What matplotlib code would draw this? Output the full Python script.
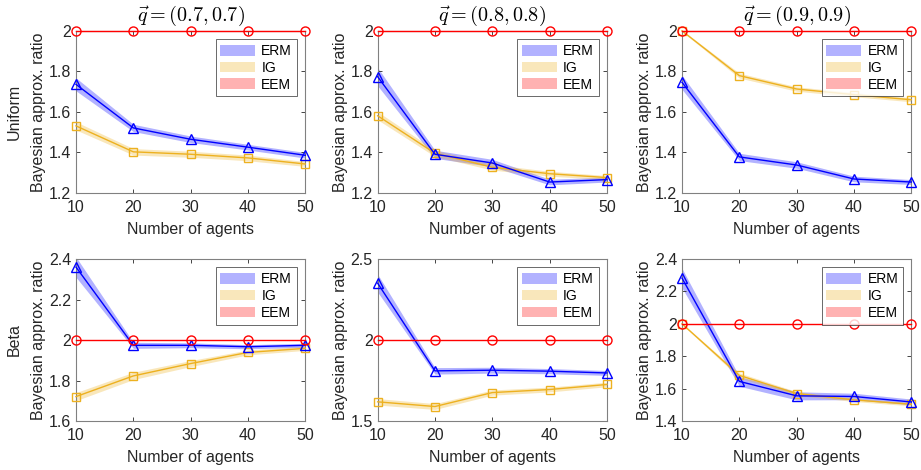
import matplotlib
matplotlib.use("Agg")
import matplotlib.pyplot as plt
from matplotlib.patches import Patch
import numpy as np

plt.rcParams['font.family'] = ['Liberation Sans', 'DejaVu Sans']
plt.rcParams['mathtext.fontset'] = 'cm'

agents = [10, 20, 30, 40, 50]
titles = [r'$\vec{q}=(0.7,0.7)$', r'$\vec{q}=(0.8,0.8)$', r'$\vec{q}=(0.9,0.9)$']
row_names = ['Uniform', 'Beta']

# Uniform row
uni_erm = [[1.736, 1.521, 1.465, 1.426, 1.386],
           [1.774, 1.391, 1.348, 1.254, 1.266],
           [1.746, 1.378, 1.338, 1.269, 1.254]]
uni_erm_err = [[0.032, 0.018, 0.016, 0.014, 0.014],
               [0.045, 0.02, 0.018, 0.014, 0.012],
               [0.035, 0.018, 0.016, 0.014, 0.012]]
uni_ig = [[1.531, 1.403, 1.391, 1.373, 1.343],
          [1.581, 1.396, 1.327, 1.295, 1.276],
          [2.000, 1.779, 1.713, 1.685, 1.660]]
uni_ig_err = [[0.02, 0.016, 0.015, 0.014, 0.012],
              [0.02, 0.016, 0.014, 0.012, 0.01],
              [0.004, 0.012, 0.011, 0.01, 0.01]]
# Beta row
beta_erm = [[2.360, 1.974, 1.974, 1.967, 1.974],
            [2.351, 1.810, 1.814, 1.808, 1.797],
            [2.282, 1.645, 1.556, 1.552, 1.518]]
beta_erm_err = [[0.05, 0.015, 0.012, 0.01, 0.01],
                [0.055, 0.02, 0.018, 0.016, 0.015],
                [0.06, 0.03, 0.025, 0.02, 0.018]]
beta_ig = [[1.721, 1.823, 1.884, 1.939, 1.959],
           [1.619, 1.590, 1.676, 1.695, 1.726],
           [2.000, 1.682, 1.570, 1.531, 1.504]]
beta_ig_err = [[0.02, 0.018, 0.015, 0.012, 0.01],
               [0.02, 0.018, 0.016, 0.015, 0.014],
               [0.004, 0.015, 0.012, 0.01, 0.01]]
eem = [2, 2, 2, 2, 2]

ylims = [[(1.2, 2.0), (1.2, 2.0), (1.2, 2.0)],
         [(1.6, 2.4), (1.5, 2.5), (1.4, 2.4)]]
yticks = [[[1.2, 1.4, 1.6, 1.8, 2], [1.2, 1.4, 1.6, 1.8, 2], [1.2, 1.4, 1.6, 1.8, 2]],
          [[1.6, 1.8, 2, 2.2, 2.4], [1.5, 2, 2.5], [1.4, 1.6, 1.8, 2, 2.2, 2.4]]]

C_ERM = (0, 0, 1)
C_IG = (0.929, 0.694, 0.125)
C_EEM = (1, 0, 0)
AX_COL = (0.15, 0.15, 0.15)

fig = plt.figure(figsize=(9.21, 4.70), dpi=100)
lefts = [0.0825, 0.410, 0.7405]
width = 0.249
bottoms = [0.5894, 0.104]
height = 0.345

for r in range(2):
    erm_all = uni_erm if r == 0 else beta_erm
    erm_e_all = uni_erm_err if r == 0 else beta_erm_err
    ig_all = uni_ig if r == 0 else beta_ig
    ig_e_all = uni_ig_err if r == 0 else beta_ig_err
    for c in range(3):
        ax = fig.add_axes([lefts[c], bottoms[r], width, height])
        x = np.array(agents)
        for vals, errs, col in [(erm_all[c], erm_e_all[c], C_ERM),
                                (ig_all[c], ig_e_all[c], C_IG)]:
            v = np.array(vals); e = np.array(errs)
            ax.fill_between(x, v - e, v + e, color=col, alpha=0.3, lw=0)
        ax.plot(x, eem, color=C_EEM, lw=1, marker='o', ms=6.5, mfc='none',
                mew=1, clip_on=False, zorder=5)
        ax.plot(x, ig_all[c], color=C_IG, lw=1, marker='s', ms=6, mfc='none',
                mew=1, clip_on=False, zorder=4)
        ax.plot(x, erm_all[c], color=C_ERM, lw=1, marker='^', ms=6.5, mfc='none',
                mew=1, clip_on=False, zorder=4)
        ax.set_xlim(10, 50)
        ax.set_ylim(*ylims[r][c])
        ax.set_xticks(agents)
        ax.set_yticks(yticks[r][c])
        ax.set_yticklabels([('%g' % t) for t in yticks[r][c]])
        ax.tick_params(direction='in', top=True, right=True, labelsize=11.5,
                       colors=AX_COL, length=3, width=0.6)
        ax.tick_params(axis='x', pad=5)
        for s in ax.spines.values():
            s.set_color((0.5, 0.5, 0.5))
            s.set_linewidth(0.8)
        ax.set_xlabel('Number of agents', fontsize=11.5, color=AX_COL, labelpad=5)
        if c == 0:
            ax.set_ylabel(row_names[r] + '\nBayesian approx. ratio', fontsize=11.5,
                          color=AX_COL, labelpad=2, linespacing=1.75)
        else:
            ax.set_ylabel('Bayesian approx. ratio', fontsize=11.5, color=AX_COL, labelpad=2)
        if r == 0:
            ax.set_title(titles[c], fontsize=14.5, pad=7)
        handles = [Patch(facecolor=C_ERM, alpha=0.3, edgecolor='none'),
                   Patch(facecolor=C_IG, alpha=0.3, edgecolor='none'),
                   Patch(facecolor=C_EEM, alpha=0.3, edgecolor='none')]
        leg = ax.legend(handles, ['ERM', 'IG', 'EEM'], loc='upper right',
                        fontsize=10, frameon=True, fancybox=False,
                        handlelength=2.5, handleheight=0.8, handletextpad=0.45,
                        borderpad=0.35, labelspacing=0.2, borderaxespad=0.6)
        leg.get_frame().set_edgecolor((0.15, 0.15, 0.15))
        leg.get_frame().set_linewidth(0.6)
        leg.set_zorder(10)

fig.savefig('out.png', dpi=100)
